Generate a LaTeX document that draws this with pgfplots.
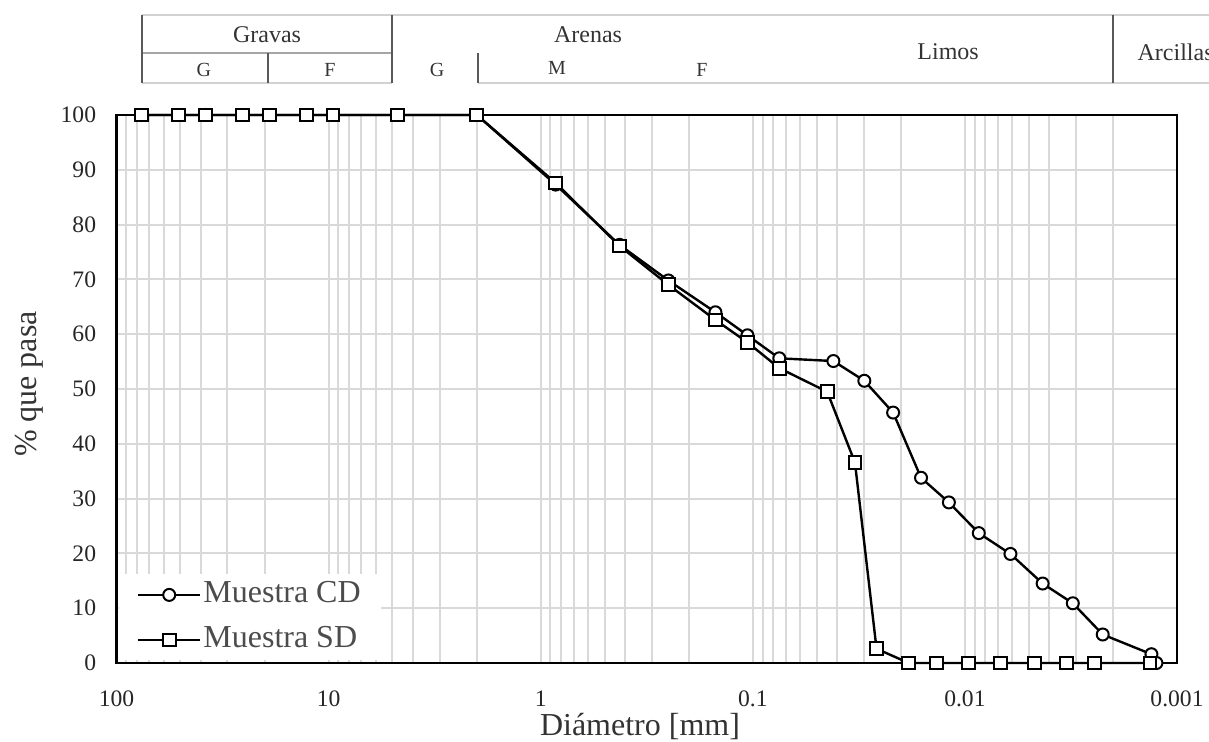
\documentclass[border=0pt]{standalone}
\usepackage{fontspec}
\setmainfont{Liberation Serif}
\usepackage{pgfplots}
\pgfplotsset{compat=1.18}
\begin{document}
\begin{tikzpicture}
\begin{axis}[
  name=main,
  scale only axis,
  width=530.25pt, height=274pt,
  xmode=log, x dir=reverse,
  xmin=0.001, xmax=100, ymin=0, ymax=100,
  xtick={100,10,1,0.1,0.01,0.001},
  xticklabels={100,10,1,0.1,0.01,0.001},
  minor xtick={0.002,0.003,0.004,0.005,0.006,0.007,0.008,0.009,
               0.02,0.03,0.04,0.05,0.06,0.07,0.08,0.09,
               0.2,0.3,0.4,0.5,0.6,0.7,0.8,0.9,
               2,3,4,5,6,7,8,9,
               20,30,40,50,60,70,80,90},
  ytick={0,10,...,100},
  major tick length=0pt, minor tick length=0pt,
  xmajorgrids, xminorgrids, ymajorgrids,
  grid style={draw=gray!30, line width=1pt},
  major grid style={draw=gray!30, line width=1pt},
  minor grid style={draw=gray!30, line width=1pt},
  axis line style={line width=1.3pt, black},
  /pgf/number format/assume math mode=true,
  tick label style={font=\fontsize{11.8}{13}\selectfont, text=black!85},
  xticklabel style={anchor=center, yshift=-18pt},
  yticklabel style={anchor=east, inner sep=0pt, xshift=-10pt},
  xlabel={Diámetro [mm]},
  ylabel={\% que pasa},
  label style={font=\fontsize{16}{19}\selectfont, text=black!80},
  xlabel style={at={(axis description cs:0.4936,-0.1150)}, anchor=center},
  ylabel style={at={(axis description cs:-0.0825,0.509)}, anchor=center},
  clip=false,
  legend cell align=left,
  legend image code/.code={\draw[mark repeat=2,mark phase=2] plot coordinates {(0pt,0pt) (15.5pt,0pt) (31pt,0pt)};},
  legend style={draw=none, fill=white, font=\fontsize{16}{18}\selectfont, text=black!70,
    at={(axis description cs:0.002,0.004)}, anchor=south west, row sep=6pt,
    inner xsep=9pt, inner ysep=2pt,
    nodes={inner sep=1pt, text height=11pt, text depth=3.5pt}},
]
\addplot[black, line width=1.2pt, mark=*, mark size=3pt, mark options={fill=white, draw=black, line width=1pt, solid}]
coordinates {
(76.2,100) (50.8,100) (38.1,100) (25.4,100) (19.05,100) (12.7,100) (9.525,100) (4.75,100) (2.0,100)
(0.85,87.3) (0.425,76.3) (0.25,69.8) (0.15,64.0) (0.106,59.8) (0.075,55.6)
(0.0417,55.1) (0.0298,51.5) (0.0218,45.7) (0.0161,33.8) (0.0119,29.3) (0.0086,23.7)
(0.0061,19.9) (0.0043,14.5) (0.0031,10.9) (0.00224,5.2) (0.00132,1.6) (0.00125,0)
};
\addlegendentry{Muestra CD}
\addplot[black, line width=1.2pt, mark=square*, mark size=3.2pt, mark options={fill=white, draw=black, line width=1pt, solid}]
coordinates {
(76.2,100) (50.8,100) (38.1,100) (25.4,100) (19.05,100) (12.7,100) (9.525,100) (4.75,100) (2.0,100)
(0.85,87.6) (0.425,76.1) (0.25,69.0) (0.15,62.6) (0.106,58.5) (0.075,53.8)
(0.0446,49.5) (0.033,36.6) (0.0261,2.6) (0.0184,0) (0.0136,0) (0.00964,0) (0.00678,0)
(0.00471,0) (0.00331,0) (0.00244,0) (0.00134,0)
};
\addlegendentry{Muestra SD}
% classification header
\draw[gray!35, line width=1pt] (axis cs:76.2,118.25) -- (axis cs:0.0006,118.25);
\draw[gray!70, line width=1pt] (axis cs:76.2,111.3) -- (axis cs:5,111.3);
\draw[gray!35, line width=1pt] (axis cs:76.2,105.8) -- (axis cs:5,105.8);
\draw[gray!35, line width=1pt] (axis cs:1.975,105.8) -- (axis cs:0.0006,105.8);
\draw[black!65, line width=1pt] (axis cs:76.2,118.25) -- (axis cs:76.2,105.8);
\draw[black!65, line width=1pt] (axis cs:19.3,111.3) -- (axis cs:19.3,105.8);
\draw[black!65, line width=1pt] (axis cs:5,118.25) -- (axis cs:5,105.8);
\draw[black!65, line width=1pt] (axis cs:1.975,111.3) -- (axis cs:1.975,105.8);
\draw[black!65, line width=1pt] (axis cs:0.002,118.25) -- (axis cs:0.002,105.8);
\begin{scope}[every node/.style={text=black!80, font=\fontsize{12}{14}\selectfont}]
\node at (axis cs:19.5,114.6) {Gravas};
\node at (axis cs:0.598,114.6) {Arenas};
\node at (axis cs:0.012,111.5) {Limos};
\node[anchor=west, inner sep=0pt] at (axis cs:0.00154,111.5) {Arcillas};
\end{scope}
\begin{scope}[every node/.style={text=black!80, font=\fontsize{10}{12}\selectfont}]
\node at (axis cs:38.7,108.3) {G};
\node at (axis cs:9.85,108.3) {F};
\node at (axis cs:3.08,108.3) {G};
\node at (axis cs:0.838,108.6) {M};
\node at (axis cs:0.1736,108.3) {F};
\end{scope}
\end{axis}
\pgfresetboundingbox
\path[use as bounding box] ([shift={(-58.25pt,-39.5pt)}]main.south west) rectangle ([shift={(16pt,57.5pt)}]main.north east);
\end{tikzpicture}
\end{document}
